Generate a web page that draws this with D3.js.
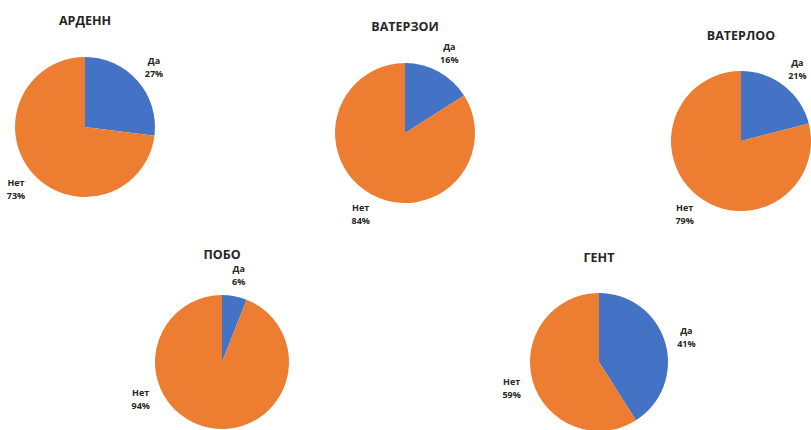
<!DOCTYPE html>
<html>
<head>
<meta charset="utf-8">
<script src="https://cdn.jsdelivr.net/npm/d3@7"></script>
<style>
  html, body { margin: 0; padding: 0; background: #ffffff; }
  svg { display: block; }
  text { font-family: "Open Sans", "Noto Sans", sans-serif; font-weight: 700; fill: #262626; }
</style>
</head>
<body>
<svg id="chart" width="811" height="430"></svg>
<script>
// ---- data ----
const titles = ["АРДЕНН", "ВАТЕРЗОИ", "ВАТЕРЛОО", "ПОБО", "ГЕНТ"];
const categories = ["Да", "Нет"];
const yesValues = [27, 16, 21, 6, 41];
const noValues = [73, 84, 79, 94, 59];

// ---- layout ----
const centersX = [85, 405, 741, 222, 599];
const centersY = [127, 133, 141, 362, 362];
const radii = [70, 70, 70, 67, 69];
const titleY = [22, 28, 37, 256, 259];
const labelAngleOverride = [[null, null], [null, null], [null, null], [null, 246], [null, null]];
const colors = ["#4472C4", "#ED7D31"];

const svg = d3.select("#chart");
const color = d3.scaleOrdinal().domain(categories).range(colors);
const pie = d3.pie().sort(null).value(d => d.value);

titles.forEach((t, i) => {
  const data = [
    { cat: categories[0], value: yesValues[i] },
    { cat: categories[1], value: noValues[i] }
  ];
  const r = radii[i];
  const arc = d3.arc().innerRadius(0).outerRadius(r);
  const g = svg.append("g").attr("transform", `translate(${centersX[i]},${centersY[i]})`);

  const arcs = pie(data);
  g.selectAll("path").data(arcs).enter().append("path")
    .attr("d", arc)
    .attr("fill", d => color(d.data.cat));

  svg.append("text")
    .attr("x", centersX[i])
    .attr("y", titleY[i])
    .attr("text-anchor", "middle")
    .attr("dominant-baseline", "middle")
    .attr("font-size", 12.5)
    .text(t);

  const labelR = r + 22;
  arcs.forEach((a, k) => {
    let ang = (a.startAngle + a.endAngle) / 2;
    if (labelAngleOverride[i][k] !== null) ang = labelAngleOverride[i][k] * Math.PI / 180;
    const lx = Math.sin(ang) * labelR;
    const ly = -Math.cos(ang) * labelR;
    const lt = g.append("text")
      .attr("x", lx)
      .attr("y", ly)
      .attr("text-anchor", "middle")
      .attr("font-size", 9);
    lt.append("tspan").attr("x", lx).attr("dy", "-0.25em").text(a.data.cat);
    lt.append("tspan").attr("x", lx).attr("dy", "1.45em").text(a.data.value + "%");
  });
});
</script>
</body>
</html>
